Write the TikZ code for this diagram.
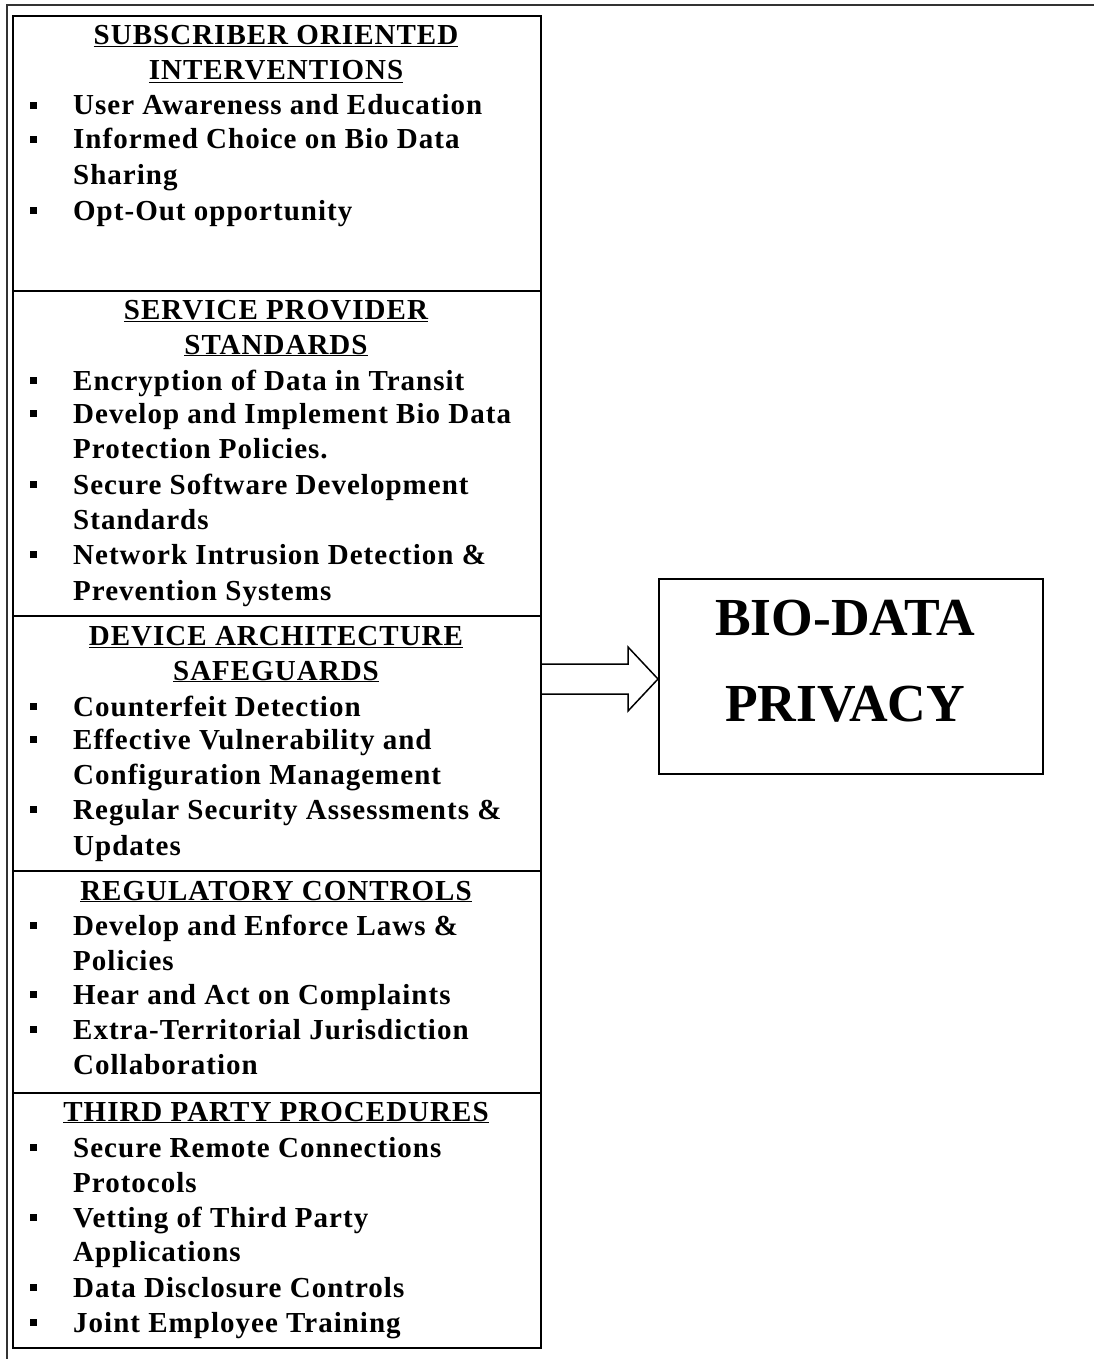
\documentclass[tikz,border=0pt]{standalone}
\usepackage{fontspec}
\setmainfont{Liberation Serif}[LetterSpace=3.5]
\newfontfamily\bigfont{Liberation Serif}
\usetikzlibrary{calc}
\newcommand{\bul}{\llap{\raisebox{6pt}{\rule{7pt}{7pt}}\hspace{36pt}}}
\begin{document}
\begin{tikzpicture}[x=1pt,y=-1pt,
  secbox/.style={draw, line width=1.6pt, minimum width=528pt, anchor=north west, inner sep=0pt},
  itm/.style={anchor=base west, inner sep=0pt, font=\fontsize{29}{35}\selectfont\bfseries},
  hd/.style={anchor=base, inner sep=0pt, font=\fontsize{29}{35}\selectfont\bfseries},
  big/.style={anchor=base, inner sep=0pt, font=\bigfont\fontsize{53.5}{60}\selectfont\bfseries},
  frame/.style={line width=2pt, draw=black!80},
  blockarrow/.style={line width=1.5pt, draw=black}]
\useasboundingbox (0,0) rectangle (1094,1359);
% outer frame (top and left edges)
\coordinate (f1) at (7,1359);
\coordinate (f2) at (7,5);
\coordinate (f3) at (1094,5);
\draw[frame] (f1) -- (f2) -- (f3);
% section boxes
\node[secbox, minimum height=275pt] (b1) at (12,15) {};
\node[secbox, minimum height=325pt] (b2) at (12,290) {};
\node[secbox, minimum height=255pt] (b3) at (12,615) {};
\node[secbox, minimum height=222pt] (b4) at (12,870) {};
\node[secbox, minimum height=255pt] (b5) at (12,1092) {};
% box 1
\node[hd] (h1a) at (276,45) {\underline{SUBSCRIBER ORIENTED}};
\node[hd] (h1b) at (276,80) {\underline{INTERVENTIONS}};
\node[itm] (i1a) at (73,115) {\bul User Awareness and Education};
\node[itm] (i1b) at (73,149) {\bul Informed Choice on Bio Data};
\node[itm] (i1c) at (73,185) {Sharing};
\node[itm] (i1d) at (73,220) {\bul Opt-Out opportunity};
% box 2
\node[hd] (h2a) at (276,319) {\underline{SERVICE PROVIDER}};
\node[hd] (h2b) at (276,354) {\underline{STANDARDS}};
\node[itm] (i2a) at (73,390) {\bul Encryption of Data in Transit};
\node[itm] (i2b) at (73,423) {\bul Develop and Implement Bio Data};
\node[itm] (i2c) at (73,458) {Protection Policies.};
\node[itm] (i2d) at (73,494) {\bul Secure Software Development};
\node[itm] (i2e) at (73,529) {Standards};
\node[itm] (i2f) at (73,564) {\bul Network Intrusion Detection \&};
\node[itm] (i2g) at (73,600) {Prevention Systems};
% box 3
\node[hd] (h3a) at (276,645) {\underline{DEVICE ARCHITECTURE}};
\node[hd] (h3b) at (276,680) {\underline{SAFEGUARDS}};
\node[itm] (i3a) at (73,716) {\bul Counterfeit Detection};
\node[itm] (i3b) at (73,749) {\bul Effective Vulnerability and};
\node[itm] (i3c) at (73,784) {Configuration Management};
\node[itm] (i3d) at (73,819) {\bul Regular Security Assessments \&};
\node[itm] (i3e) at (73,855) {Updates};
% box 4
\node[hd] (h4a) at (276,900) {\underline{REGULATORY CONTROLS}};
\node[itm] (i4a) at (73,935) {\bul Develop and Enforce Laws \&};
\node[itm] (i4b) at (73,970) {Policies};
\node[itm] (i4c) at (73,1004) {\bul Hear and Act on Complaints};
\node[itm] (i4d) at (73,1039) {\bul Extra-Territorial Jurisdiction};
\node[itm] (i4e) at (73,1074) {Collaboration};
% box 5
\node[hd] (h5a) at (276,1121) {\underline{THIRD PARTY PROCEDURES}};
\node[itm] (i5a) at (73,1157) {\bul Secure Remote Connections};
\node[itm] (i5b) at (73,1192) {Protocols};
\node[itm] (i5c) at (73,1227) {\bul Vetting of Third Party};
\node[itm] (i5d) at (73,1261) {Applications};
\node[itm] (i5e) at (73,1297) {\bul Data Disclosure Controls};
\node[itm] (i5f) at (73,1332) {\bul Joint Employee Training};
% target box
\node[draw, line width=1.6pt, minimum width=384pt, minimum height=195pt, anchor=north west, inner sep=0pt] (bio) at (658,578) {};
\node[big] (t1) at (845,635) {BIO-DATA};
\node[big] (t2) at (845,721) {PRIVACY};
% block arrow from box 3 to target
\coordinate (as) at (b3.east |- 0,679);
\coordinate (tip) at (bio.west |- as);
\draw[blockarrow] ($(as)+(0,-15)$) -- ($(tip)+(-30,-15)$) -- ($(tip)+(-30,-32)$) -- (tip)
  -- ($(tip)+(-30,32)$) -- ($(tip)+(-30,15)$) -- ($(as)+(0,15)$);
\end{tikzpicture}
\end{document}
